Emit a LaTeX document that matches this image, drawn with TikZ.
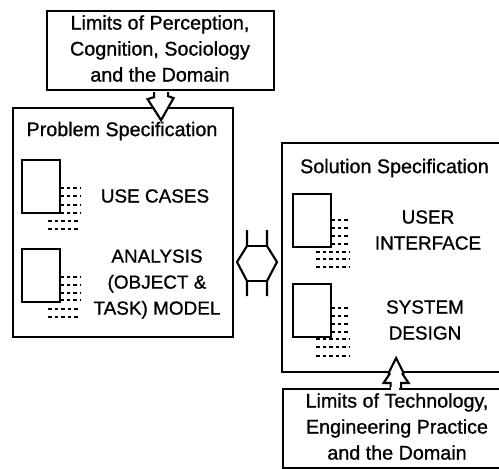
\documentclass[tikz,border=0pt]{standalone}
\usepackage{fontspec}
\setmainfont{Liberation Sans}
\newfontfamily\heavyfont[FakeBold=0.9]{Liberation Sans}
\tikzset{x=0.75pt,y=-0.75pt,
 box/.style={draw,line width=1.6pt,fill=white,inner sep=0pt,anchor=north west},
 page/.style={draw,line width=1.5pt,fill=white,inner sep=0pt,minimum width=28.5pt,minimum height=39.75pt,anchor=north west},
 lbl/.style={font=\heavyfont\fontsize{14.8pt}{19.5pt}\selectfont,align=center,inner sep=0pt},
 capslbl/.style={font=\heavyfont\fontsize{14.2pt}{19.5pt}\selectfont,align=center,inner sep=0pt},
 dots/.style={line width=1.4pt,dash pattern=on 2.9pt off 2pt},
 arrowline/.style={line width=1.6pt,fill=white,line join=miter}}
% x-left-short, x-left-long, x-right, list of short rows, list of long rows
\newcommand{\dotrows}[5]{%
 \foreach \r in {#4}{\draw[dots] (#1,\r) -- (#3,\r);}%
 \foreach \r in {#5}{\draw[dots] (#2,\r) -- (#3,\r);}%
}
\begin{document}
\begin{tikzpicture}
\useasboundingbox (0,0) rectangle (499,468);
\clip (0,0) rectangle (499,468);
\node[box,minimum width=170.25pt,minimum height=59.25pt] (top) at (46,10) {};
\node[box,minimum width=165pt,minimum height=171.75pt] (prob) at (12,107) {};
\node[box,minimum width=168.75pt,minimum height=171.75pt] (sol) at (281,142) {};
\node[box,minimum width=168.75pt,minimum height=59.25pt] (bot) at (282,388) {};
\coordinate (dbl) at (257,263);
\dotrows{60}{48}{80}{188,196,205,213}{221,229}
\dotrows{60}{48}{80}{277,285,293,300}{309,317}
\dotrows{331}{316}{350}{220,228,236,244}{252,259,267}
\dotrows{331}{316}{350}{308,316,324,332}{339,347,356}
\node[page] (p1) at (21,159) {};
\node[page] (p2) at (21,248) {};
\node[page] (p3) at (292,193) {};
\node[page] (p4) at (292,283) {};
% down arrow
\draw[arrowline,shift={(top.south)}] (-6.5,1) -- (-6.5,6) -- (-13,8) -- (0.5,29) -- (13,7) -- (7.5,5) -- (7.5,1);
% up arrow
\draw[arrowline,shift={(bot.north)}] (-5,0) -- (-5,-5) -- (-12,-5) -- (-6,-14) -- (-7,-15) -- (0.5,-30) -- (8,-15) -- (7,-14) -- (13,-5) -- (5.5,-5) -- (5.5,0);
\fill[white] (391,387) rectangle (399,390);
% double arrow
\draw[arrowline,shift={(dbl)}] (-10,-33) -- (-10,-17) -- (-20,-1) -- (-10,18) -- (-10,33);
\draw[arrowline,shift={(dbl)}] (10,-33) -- (10,-17) -- (20,-1) -- (10,18) -- (10,33);
\draw[arrowline,shift={(dbl)}] (-10,-17) -- (10,-17);
\draw[arrowline,shift={(dbl)}] (-10,18) -- (10,18);
% text
\node[lbl] (t1) at (160,48.5) {Limits of Perception,\\Cognition, Sociology\\and the Domain};
\node[lbl] (pt) at (122,131) {Problem Specification};
\node[lbl] (sp) at (394.5,168) {Solution Specification};
\node[lbl] (b1) at (397,426.5) {Limits of Technology,\\Engineering Practice\\and the Domain};
\node[capslbl] (uc) at (155,196) {USE CASES};
\node[capslbl] (an) at (157,284) {ANALYSIS\\(OBJECT \&\\TASK) MODEL};
\node[capslbl] (ui) at (428,230) {USER\\INTERFACE};
\node[capslbl] (sd) at (425,320) {SYSTEM\\DESIGN};
\end{tikzpicture}
\end{document}
